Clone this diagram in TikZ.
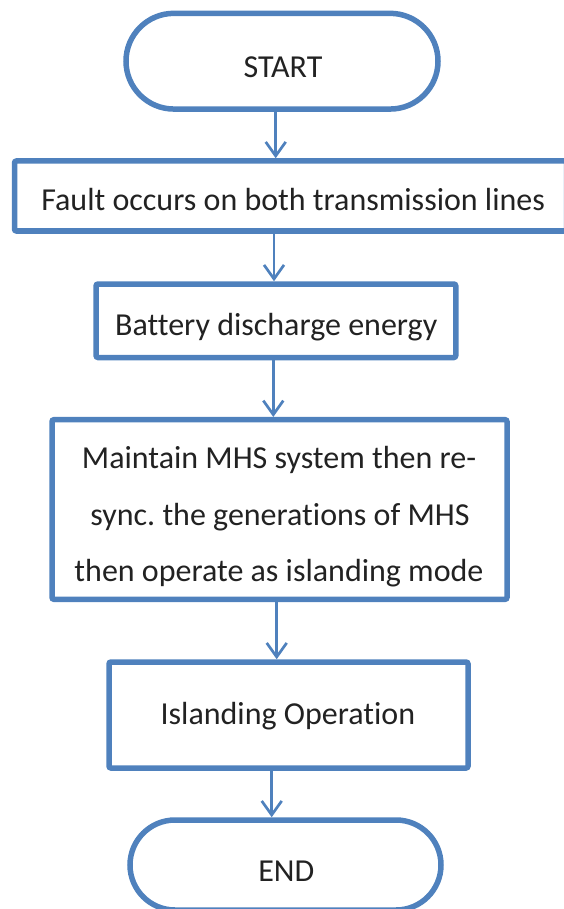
\documentclass[tikz,border=0pt]{standalone}
\usepackage{fontspec}
\setmainfont{Carlito}[Ligatures=CommonOff]
\usetikzlibrary{arrows.meta,shapes.misc}
\definecolor{flowblue}{HTML}{4F81BD}
\definecolor{flowtext}{HTML}{222222}
\frenchspacing
\begin{document}
\begin{tikzpicture}[x=1pt,y=-1pt,
  boxshape/.style={draw=flowblue,line width=5.5pt,rectangle,rounded corners=2pt,inner sep=0pt},
  termshape/.style={draw=flowblue,line width=5.5pt,rounded rectangle,inner sep=0pt},
  label text/.style={anchor=base,text=flowtext,inner sep=0pt,font=\fontsize{32}{40}\selectfont},
  arr/.style={draw=flowblue,line width=2.7pt,-{Straight Barb[length=14pt,width=20pt,line width=2.7pt]}}]
\useasboundingbox (0,0) rectangle (564,909);
% shapes
\node[termshape,minimum width=312pt,minimum height=95.7pt] (start) at (282,61.2) {};
\node[boxshape,minimum width=552pt,minimum height=70pt] (fault) at (290.5,196) {};
\node[boxshape,minimum width=359.7pt,minimum height=73.5pt] (battery) at (275.9,320.75) {};
\node[boxshape,minimum width=455pt,minimum height=179.6pt] (maintain) at (279.5,509.5) {};
\node[boxshape,minimum width=359pt,minimum height=106pt] (island) at (288.5,715) {};
\node[termshape,minimum width=311pt,minimum height=90pt] (end) at (285.5,865) {};
% texts
\node[label text] (startT) at (283,77.3) {START};
\node[label text] (faultT) at (293.2,211) {Fault occurs on both transmission lines};
\node[label text] (batteryT) at (276.2,335) {Battery discharge energy};
\node[label text] (maintainA) at (279,468.3) {Maintain MHS system then re-};
\node[label text] (maintainB) at (280,525) {sync. the generations of MHS};
\node[label text] (maintainC) at (279,581.7) {then operate as islanding mode};
\node[label text] (islandT) at (287.9,724) {Islanding Operation};
\node[label text] (endT) at (286.3,881.7) {END};
% connector columns
\coordinate (c1) at (275.7,0);
\coordinate (c2) at (274,0);
\coordinate (c3) at (273.3,0);
\coordinate (c4) at (276.7,0);
\coordinate (c5) at (271.7,0);
\draw[arr] (start.south -| c1) -- (fault.north -| c1);
\draw[arr] (fault.south -| c2) -- (battery.north -| c2);
\draw[arr] (battery.south -| c3) -- (maintain.north -| c3);
\draw[arr] (maintain.south -| c4) -- (island.north -| c4);
\draw[arr] (island.south -| c5) -- (end.north -| c5);
\end{tikzpicture}
\end{document}
